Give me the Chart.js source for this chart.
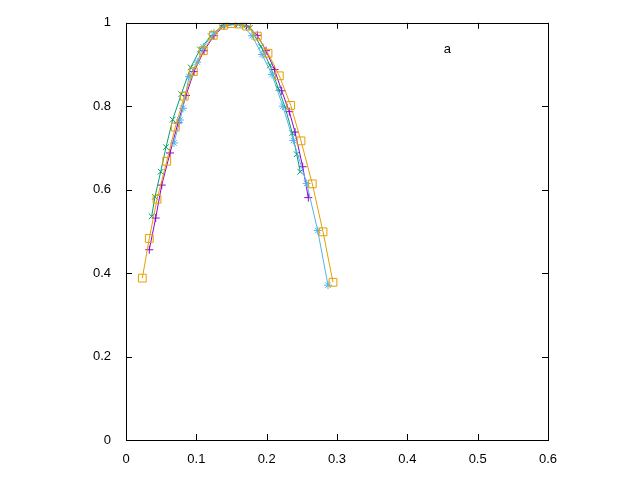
<!DOCTYPE html>
<html>
<head>
<meta charset="utf-8">
<script src="https://cdn.jsdelivr.net/npm/chart.js@4"></script>
<style>
html,body{margin:0;padding:0;background:#fff;}
#wrap{width:640px;height:480px;}
</style>
</head>
<body>
<div id="wrap"><canvas id="c" width="640" height="480"></canvas></div>
<script>
const xTicks = [0, 0.1, 0.2, 0.3, 0.4, 0.5, 0.6];
const yTicks = [0, 0.2, 0.4, 0.6, 0.8, 1];
const legendLabel = "a";

const purpleX = [0.0331,0.0422,0.0508,0.0626,0.0739,0.0853,0.0967,0.1109,0.1251,0.1393,0.1564,0.1713,0.1867,0.1991,0.2111,0.2214,0.2322,0.2403,0.2512,0.2592];
const purpleY = [0.456,0.532,0.611,0.688,0.760,0.826,0.883,0.933,0.969,0.993,0.998,0.992,0.970,0.933,0.888,0.837,0.787,0.738,0.655,0.581];

const greenX = [0.0365,0.0412,0.0493,0.0569,0.0664,0.0786,0.0920,0.1052,0.1204,0.1375,0.1597,0.1763,0.1919,0.2047,0.2166,0.2261,0.2364,0.2427,0.2478];
const greenY = [0.536,0.583,0.643,0.702,0.768,0.829,0.893,0.936,0.968,0.994,0.996,0.988,0.943,0.898,0.843,0.798,0.736,0.685,0.643];

const cyanX = [0.0682,0.0768,0.0810,0.0896,0.1014,0.1099,0.1251,0.1450,0.1650,0.1791,0.1934,0.2076,0.2230,0.2379,0.2569,0.2726,0.2872];
const cyanY = [0.712,0.767,0.795,0.871,0.906,0.942,0.976,0.998,0.995,0.969,0.924,0.876,0.800,0.718,0.615,0.502,0.371];

const orangeX = [0.0232,0.0331,0.0441,0.0579,0.0701,0.0829,0.0957,0.1099,0.1241,0.1389,0.1489,0.1607,0.1716,0.1867,0.2019,0.2180,0.2342,0.2488,0.2649,0.2801,0.2943];
const orangeY = [0.388,0.483,0.577,0.668,0.750,0.824,0.883,0.933,0.970,0.994,0.998,0.997,0.992,0.968,0.927,0.873,0.802,0.717,0.614,0.499,0.378];

function pts(xs, ys){ return xs.map((x,i)=>({x:x, y:ys[i]})); }

const FONT = {family: "'Liberation Sans', Arial, sans-serif", size: 13};

const frame = {
  id: 'frame',
  afterDraw(chart){
    const ctx = chart.ctx, a = chart.chartArea;
    const xs = chart.scales.x, ys = chart.scales.y;
    ctx.save();
    ctx.strokeStyle = '#000';
    ctx.lineWidth = 1;
    ctx.beginPath();
    const L = 6;
    xTicks.forEach(v=>{
      const p = Math.round(xs.getPixelForValue(v)) + 0.5;
      ctx.moveTo(p, a.bottom); ctx.lineTo(p, a.bottom - L);
      ctx.moveTo(p, a.top); ctx.lineTo(p, a.top + L);
    });
    yTicks.forEach(v=>{
      const p = Math.round(ys.getPixelForValue(v)) + 0.5;
      ctx.moveTo(a.left, p); ctx.lineTo(a.left + L, p);
      ctx.moveTo(a.right, p); ctx.lineTo(a.right - L, p);
    });
    ctx.stroke();
    ctx.strokeRect(Math.round(a.left)+0.5, Math.round(a.top)+0.5, Math.round(a.right-a.left), Math.round(a.bottom-a.top));
    ctx.fillStyle = '#000';
    ctx.font = "13px 'Liberation Sans', Arial, sans-serif";
    ctx.textAlign = 'right';
    ctx.textBaseline = 'middle';
    ctx.fillText(legendLabel, a.right - 97, a.top + 27);
    ctx.restore();
  }
};

function ds(label, xs, ys, color, style, r, ord){
  return {
    label: label,
    data: pts(xs, ys),
    borderColor: color,
    backgroundColor: 'rgba(0,0,0,0)',
    pointBorderColor: color,
    pointBackgroundColor: 'rgba(0,0,0,0)',
    pointStyle: style,
    pointRadius: r,
    pointBorderWidth: 1,
    borderWidth: 1,
    showLine: true,
    tension: 0,
    order: ord
  };
}

new Chart(document.getElementById('c'), {
  type: 'scatter',
  data: {
    datasets: [
      ds('s1', purpleX, purpleY, '#9400D3', 'cross', 4, 4),
      ds('s2', greenX, greenY, '#009E73', 'crossRot', 4, 3),
      ds('s3', cyanX, cyanY, '#56B4E9', 'star', 4, 2),
      ds('s4', orangeX, orangeY, '#E69F00', 'rect', 5.5, 1)
    ]
  },
  options: {
    responsive: false,
    animation: false,
    devicePixelRatio: 1,
    layout: {padding: {left: 0, right: 92, top: 20, bottom: 0}},
    plugins: {legend: {display: false}, tooltip: {enabled: false}},
    scales: {
      x: {
        type: 'linear', min: 0, max: 0.6,
        afterFit(s){ s.height = 40; },
        afterBuildTicks(s){ s.ticks = xTicks.map(v=>({value:v})); },
        grid: {display: false, drawTicks: false},
        border: {display: false},
        ticks: {color: '#000', font: FONT, padding: 12, maxRotation: 0,
          callback: v => String(v)}
      },
      y: {
        type: 'linear', min: 0, max: 1,
        afterFit(s){ s.width = 126; },
        afterBuildTicks(s){ s.ticks = yTicks.map(v=>({value:v})); },
        grid: {display: false, drawTicks: false},
        border: {display: false},
        ticks: {color: '#000', font: FONT, padding: 15,
          callback: v => String(v)}
      }
    }
  },
  plugins: [frame]
});
</script>
</body>
</html>
